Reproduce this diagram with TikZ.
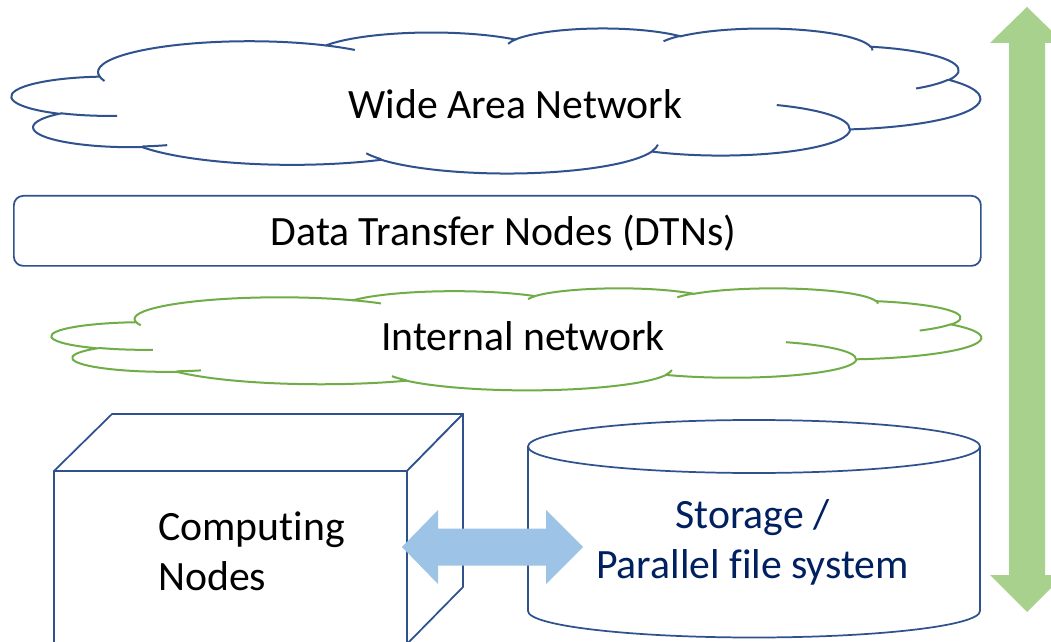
\documentclass[tikz,border=0pt]{standalone}
\usepackage{fontspec}
\setmainfont{Carlito}[Ligatures=NoCommon]
\definecolor{lineblue}{HTML}{2F528F}
\definecolor{cloudgreen}{HTML}{70AD47}
\definecolor{arrowgreen}{HTML}{A9D18E}
\definecolor{arrowblue}{HTML}{9DC3E6}
\definecolor{navytext}{HTML}{002060}
% arc of the Office cloud shape: x radius, y radius, start angle, sweep (visual angles)
\newcommand\carc[4]{arc[x radius=#1, y radius=#2,
  start angle={atan2((#1)*sin(#3),(#2)*cos(#3))},
  delta angle={mod(atan2((#1)*sin((#3)+(#4)),(#2)*cos((#3)+(#4)))-atan2((#1)*sin(#3),(#2)*cos(#3))+720,360)}]}
\newcommand\officecloud[5]{%
\begin{scope}[shift={(#1,#2)}, xscale=#3/432, yscale=#4/432]
\draw[#5] (39.00,143.70)
  \carc{67.53}{91.90}{-190.48748}{123.78053}
  \carc{53.33}{72.67}{-144.10238}{89.94523}
  \carc{43.65}{59.45}{-145.80792}{99.72302}
  \carc{48.57}{65.95}{-130.98607}{117.24173}
  \carc{53.33}{72.73}{-78.70888}{109.02692}
  \carc{67.75}{92.20}{-46.26725}{130.26900}
  \carc{57.85}{78.67}{0.62502}{114.03333}
  \carc{67.52}{92.15}{22.45160}{115.17255}
  \carc{77.20}{105.43}{66.24263}{75.71102}
  \carc{43.60}{59.18}{-274.94208}{146.73557}
  \carc{43.45}{59.45}{-246.8285}{152.51885} -- cycle;
\draw[#5]
  (46.93,261.77) \carc{43.45}{59.45}{86.742}{26.4295}
  (69.28,348.99) \carc{43.60}{59.18}{73.61047}{11.44747}
  (164.78,390.90) \carc{67.52}{92.15}{137.62415}{14.0811}
  (288.27,347.51) \carc{67.52}{92.15}{6.45327}{15.99835}
  (341.29,229.54) \carc{57.85}{78.67}{-70.29235}{70.91737}
  (417.98,153.54) \carc{53.33}{72.73}{30.31803}{27.7515}
  (383.24,54.26) \carc{48.57}{65.95}{-13.74433}{14.8589}
  (290.78,39.52) \carc{48.57}{65.95}{-149.18145}{18.19537}
  (221.41,47.20) \carc{43.65}{59.45}{-163.49427}{17.68635}
  (140.00,51.92) \carc{67.53}{91.90}{-66.70695}{12.31935}
  (41.27,157.89) \carc{67.53}{91.90}{157.65435}{11.85817};
\end{scope}}
\tikzset{
  txt/.style={font=\fontsize{31.3}{37.5}\selectfont, inner sep=0pt},
  outline/.style={draw=lineblue, line width=1.3pt, line join=round},
  bluecloud/.style={draw=lineblue, line width=1.5pt},
  greencloud/.style={draw=cloudgreen, line width=1.5pt},
}
\begin{document}
\begin{tikzpicture}[x=0.75pt, y=-0.75pt]
\clip (0,0) rectangle (1051,642);
\fill[white] (0,0) rectangle (1051,642);
% clouds
\officecloud{12}{28}{968}{145}{bluecloud}
\officecloud{52}{288}{929}{102}{greencloud}
\node[txt, anchor=base] (wan) at (515.5,118) {Wide Area Network};
\node[txt, anchor=base] (lan) at (523,350) {Internal network};
% DTN bar
\node[outline, rounded corners=7pt, minimum width=967*0.75pt, minimum height=70*0.75pt,
  anchor=north west, inner sep=0pt] (dtnbox) at (13,195) {};
\node[txt, anchor=base] (dtn) at (503.5,245) {Data Transfer Nodes (DTNs)};
% cube
\draw[outline, fill=white] (54,471) rectangle (407,644);
\draw[outline, fill=white] (54,471) -- (112,414) -- (463,414) -- (407,471) -- cycle;
\draw[outline, fill=white] (407,471) -- (463,414) -- (463,587) -- (407,644) -- cycle;
\node[txt, align=left, anchor=base west] (comp) at (158,590) {Computing\\Nodes};
% cylinder
\draw[outline, fill=white] (528,446.5) -- (528,611) arc[start angle=180, end angle=0, x radius=226, y radius=26.5] -- (980,446.5);
\draw[outline] (754,446.5) ellipse[x radius=226, y radius=26.5];
\node[txt, align=center, anchor=base, text=navytext] (storage) at (752.5,578) {Storage /\\Parallel file system};
% blue double arrow between compute and storage
\fill[arrowblue] (402,547) -- (438,510) -- (438,528.5) -- (546,528.5) -- (546,510) -- (583,547)
  -- (546,584) -- (546,565.5) -- (438,565.5) -- (438,584) -- cycle;
% green vertical double arrow
\fill[arrowgreen] (1027,7) -- (1064,43) -- (1045,43) -- (1045,575) -- (1064,575) -- (1027,612)
  -- (990,575) -- (1009,575) -- (1009,43) -- (990,43) -- cycle;
\end{tikzpicture}
\end{document}
